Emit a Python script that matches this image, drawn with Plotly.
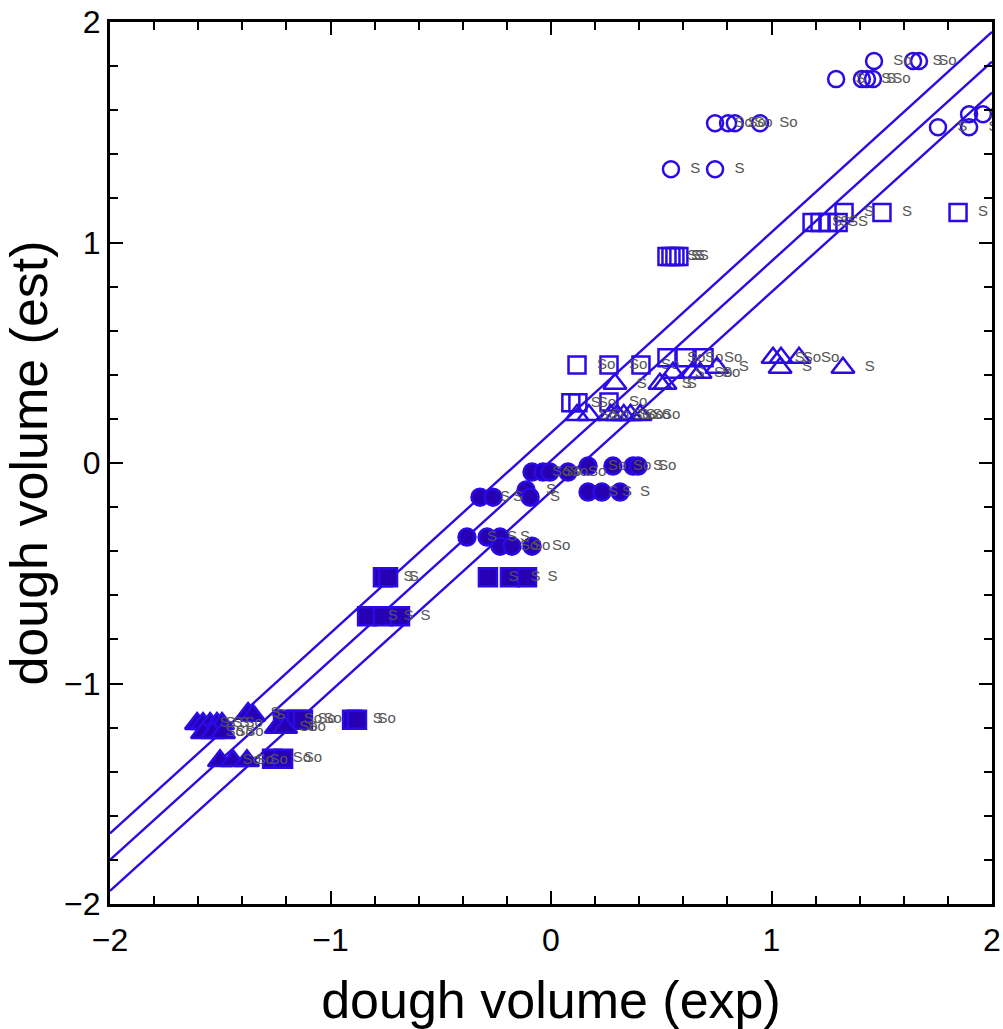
import plotly.graph_objects as go

# ---- data ----
# open circles
oc_x = [1.465, 1.642, 1.669, 1.293, 1.410, 1.433, 1.460, 0.744, 0.803, 0.834, 0.948, 0.544, 0.744, 1.755, 1.896, 1.896, 1.959]
oc_y = [1.823, 1.823, 1.823, 1.741, 1.741, 1.741, 1.741, 1.541, 1.541, 1.541, 1.541, 1.332, 1.332, 1.523, 1.582, 1.523, 1.582]
oc_lab = ["So", "S", "So", "S", "S", "S", "So", "So", "So", "So", "So", "S", "S", "S", "S", "S", "S"]

# open squares
os_x = [1.329, 1.501, 1.846, 1.184, 1.220, 1.256, 1.302, 0.526, 0.544, 0.562, 0.580, 0.118, 0.263, 0.408, 0.526, 0.608, 0.694, 0.090, 0.122, 0.263]
os_y = [1.136, 1.136, 1.136, 1.091, 1.091, 1.091, 1.091, 0.936, 0.936, 0.936, 0.936, 0.445, 0.445, 0.445, 0.477, 0.477, 0.477, 0.273, 0.273, 0.277]
os_lab = ["S", "S", "S", "S", "S", "S", "S", "S", "S", "S", "S", "So", "So", "So", "So", "So", "So", "S", "So", "So"]

# open triangles
ot_x = [0.290, 0.118, 0.172, 0.270, 0.300, 0.330, 0.360, 0.404, 0.494, 0.517, 0.553, 0.640, 0.676, 0.753, 1.007, 1.043, 1.039, 1.125, 1.324]
ot_y = [0.359, 0.218, 0.218, 0.218, 0.218, 0.218, 0.218, 0.218, 0.359, 0.359, 0.409, 0.409, 0.409, 0.432, 0.477, 0.477, 0.432, 0.477, 0.432]
ot_lab = ["S", "So", "So", "So", "So", "So", "So", "So", "S", "S", "S", "So", "So", "S", "S", "So", "S", "So", "S"]

# filled circles
fc_x = [-0.086, -0.036, -0.005, 0.077, 0.168, 0.281, 0.372, 0.395, 0.168, 0.231, 0.313, -0.322, -0.263, -0.113, -0.095, -0.381, -0.290, -0.231, -0.231, -0.177, -0.086]
fc_y = [-0.041, -0.041, -0.041, -0.041, -0.014, -0.014, -0.014, -0.014, -0.132, -0.132, -0.132, -0.155, -0.155, -0.123, -0.155, -0.336, -0.336, -0.336, -0.377, -0.377, -0.377]
fc_lab = ["So", "So", "So", "So", "So", "So", "S", "So", "S", "S", "S", "S", "S", "S", "S", "S", "S", "S", "So", "So", "So"]

# filled squares
fs_x = [-0.286, -0.186, -0.109, -0.762, -0.739, -0.834, -0.762, -0.685, -1.215, -1.152, -1.125, -0.902, -0.880, -1.265, -1.215]
fs_y = [-0.518, -0.518, -0.518, -0.518, -0.518, -0.695, -0.695, -0.695, -1.164, -1.164, -1.164, -1.164, -1.164, -1.341, -1.341]
fs_lab = ["S", "S", "S", "S", "S", "S", "S", "S", "So", "So", "So", "S", "So", "So", "So"]

# filled triangles
ft_x = [-1.605, -1.578, -1.546, -1.515, -1.492, -1.578, -1.533, -1.488, -1.374, -1.351, -1.243, -1.206, -1.501, -1.442, -1.379]
ft_y = [-1.182, -1.182, -1.182, -1.182, -1.182, -1.223, -1.223, -1.223, -1.136, -1.145, -1.200, -1.200, -1.350, -1.350, -1.350]
ft_lab = ["S", "S", "S", "S", "So", "So", "So", "So", "S", "S", "So", "So", "So", "So", "So"]

# regression line and bands (end points at x = -2 and x = 2)
line_x = [-2, 2]
upper_y = [-1.68, 1.955]
mid_y = [-1.80, 1.82]
lower_y = [-1.94, 1.68]

# ---- styling ----
BLUE = "#2a0ae6"
FILL = "#2800b4"
FONT = "Liberation Sans, Arial"
LABEL_FONT = dict(family=FONT, size=15, color="#555555")
PAD = "\u00a0\u00a0"

fig = go.Figure()

for yy in (upper_y, mid_y, lower_y):
    fig.add_trace(go.Scatter(x=line_x, y=yy, mode="lines",
                             line=dict(color=BLUE, width=2.4), hoverinfo="skip"))

def add_pts(xs, ys, labs, symbol, size, filled):
    fig.add_trace(go.Scatter(
        x=xs, y=ys, mode="markers+text", text=[PAD + t for t in labs],
        textposition="middle right", textfont=LABEL_FONT,
        marker=dict(symbol=symbol, size=size,
                    color=FILL if filled else "rgba(0,0,0,0)",
                    line=dict(color=BLUE, width=2.5))))

add_pts(oc_x, oc_y, oc_lab, "circle", 16, False)
add_pts(os_x, os_y, os_lab, "square", 17, False)
add_pts(ot_x, ot_y, ot_lab, "triangle-up", 20, False)
add_pts(fc_x, fc_y, fc_lab, "circle", 17, True)
add_pts(fs_x, fs_y, fs_lab, "square", 18, True)
add_pts(ft_x, ft_y, ft_lab, "triangle-up", 21, True)

axis_common = dict(
    range=[-2, 2], dtick=1, tick0=0, automargin=False,
    showgrid=False, zeroline=False,
    showline=True, linecolor="black", linewidth=3,
    mirror="ticks", ticks="inside", ticklen=13, tickwidth=2, tickcolor="black",
    minor=dict(dtick=0.2, ticks="inside", ticklen=8, tickwidth=2, tickcolor="black"),
    tickfont=dict(family=FONT, size=32, color="black"),
)

fig.update_layout(
    width=1003, height=1029,
    margin=dict(l=110, r=11, t=22, b=125),
    paper_bgcolor="white", plot_bgcolor="white",
    showlegend=False,
    xaxis=dict(**axis_common, ticklabelstandoff=6,
               title=dict(text="dough volume (exp)", standoff=26,
                          font=dict(family=FONT, size=52, color="black"))),
    yaxis=dict(**axis_common,
               title=dict(text="dough volume (est)", standoff=2,
                          font=dict(family=FONT, size=52, color="black"))),
)

fig.write_html("out.html")
